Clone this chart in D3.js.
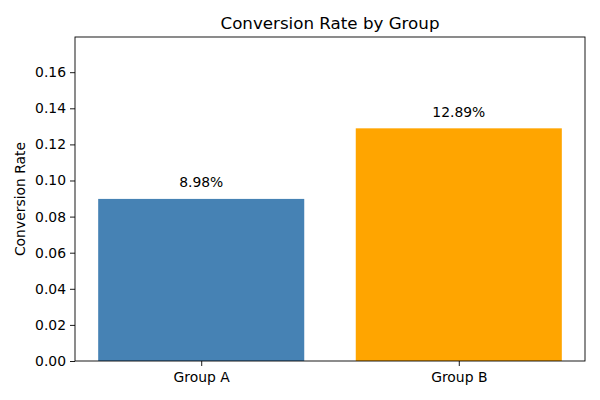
<!DOCTYPE html>
<html>
<head>
<meta charset="utf-8">
<script src="https://cdn.jsdelivr.net/npm/d3@7"></script>
<style>
  body { margin: 0; background: #fff; }
  text { font-family: "DejaVu Sans", sans-serif; fill: #000; }
</style>
</head>
<body>
<svg id="chart" width="600" height="400"></svg>
<script>
const groups = ["Group A", "Group B"]
const rates = [0.0898, 0.1289]
const colors = ["steelblue", "orange"]
const yTicks = [0, 0.02, 0.04, 0.06, 0.08, 0.10, 0.12, 0.14, 0.16]

const svg = d3.select("#chart")
const margin = {top: 37, right: 15, bottom: 39, left: 75}
const width = +svg.attr("width") - margin.left - margin.right
const height = +svg.attr("height") - margin.top - margin.bottom

const g = svg.append("g")
    .attr("transform", `translate(${margin.left},${margin.top})`)

// categorical positions like matplotlib: bars 0.8 wide, 5% margins
const x = d3.scaleLinear()
    .domain([-0.49, groups.length - 1 + 0.49])
    .range([0, width])

const y = d3.scaleLinear()
    .domain([0, 0.1795])
    .range([height, 0])

g.selectAll(".bar")
    .data(rates)
    .join("rect")
        .attr("class", "bar")
        .attr("x", (d, i) => x(i - 0.4))
        .attr("width", x(0.4) - x(-0.4))
        .attr("y", d => y(d))
        .attr("height", d => height - y(d))
        .attr("fill", (d, i) => colors[i])

g.selectAll(".label")
    .data(rates)
    .join("text")
        .attr("class", "label")
        .attr("x", (d, i) => x(i))
        .attr("y", d => y(d + 0.003) - 6)
        .attr("text-anchor", "middle")
        .style("font-size", "13.9px")
        .text(d => (d * 100).toFixed(2) + "%")

const yAxis = g.append("g")
    .call(d3.axisLeft(y).tickValues(yTicks).tickFormat(d3.format(".2f")).tickSizeOuter(0).tickSize(5).tickPadding(4))
yAxis.selectAll("text").style("font-size", "13.9px")

const xAxis = g.append("g")
    .attr("transform", `translate(0,${height})`)
    .call(d3.axisBottom(x).tickValues(groups.map((d, i) => i)).tickFormat(i => groups[i]).tickSizeOuter(0).tickSize(5).tickPadding(6))
xAxis.selectAll("text").style("font-size", "13.9px")

svg.selectAll(".domain").remove()
svg.selectAll(".tick line").attr("stroke", "#000").attr("stroke-width", 0.9)

// frame
g.append("rect")
    .attr("width", width)
    .attr("height", height)
    .attr("fill", "none")
    .attr("stroke", "#000")
    .attr("stroke-width", 0.9)

svg.append("text")
    .attr("x", margin.left + width / 2)
    .attr("y", margin.top - 8)
    .attr("text-anchor", "middle")
    .style("font-size", "16.7px")
    .text("Conversion Rate by Group")

svg.append("text")
    .attr("transform", `translate(25,${margin.top + height / 2}) rotate(-90)`)
    .attr("text-anchor", "middle")
    .style("font-size", "13.9px")
    .text("Conversion Rate")
</script>
</body>
</html>
